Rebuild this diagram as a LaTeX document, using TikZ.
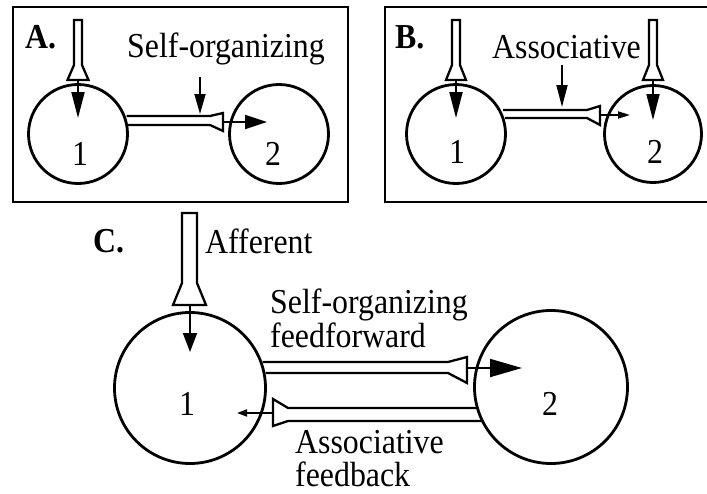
\documentclass[tikz,border=0pt]{standalone}
\usepackage{fontspec}
\setmainfont{Liberation Serif}[FakeStretch=0.91]
\usetikzlibrary{arrows.meta}
\begin{document}
\begin{tikzpicture}[x=1pt,y=-1pt,
  lbl/.style={inner sep=0pt, anchor=base west, font=\fontsize{35}{29}\selectfont},
  lbltwo/.style={inner sep=0pt, anchor=base west, align=left, font=\fontsize{35}{#1}\selectfont},
  ttl/.style={inner sep=0pt, anchor=base west, font=\fontsize{35}{35}\selectfont\bfseries},
  num/.style={inner sep=0pt, anchor=base, font=\fontsize{35}{35}\selectfont},
  cell/.style={circle, draw, line width=2.8pt, minimum size=#1, inner sep=0pt},
  tube/.style={draw, line width=2.3pt, line join=miter},
  sig/.style={line width=1.8pt},
  panel/.style={draw, line width=2.8pt}]
\useasboundingbox (0,0) rectangle (707,493);
% panels
\draw[panel] (13,7) rectangle (348,202);
\draw[panel] (385,7) rectangle (715,202);
% ---------- A ----------
\node[cell=99pt] (A1) at (78,134) {};
\node[cell=99pt] (A2) at (279,134) {};
\node[num] (A1n) at (80,165) {1};
\node[num] (A2n) at (273,165) {2};
\node[ttl] (Alab) at (25,48) {A.};
\node[lbl] (Aso) at (127,57) {Self-organizing};
\draw[tube] (74,20) -- (82,20) -- (82,65) -- (88.5,80) -- (67.5,80) -- (74,65) -- cycle;
\coordinate (Aa0) at (78,80); \coordinate (Aa1) at (78,118);
\draw[sig, -{Triangle[length=26pt,width=13pt]}] (Aa0) -- (Aa1);
\draw[tube] (126.5,116) -- (210,116) -- (223,113) -- (223,131) -- (210,125) -- (127.5,125);
\coordinate (Ah0) at (223,122); \coordinate (Ah1) at (267,122);
\draw[sig, -{Triangle[length=22pt,width=14pt]}] (Ah0) -- (Ah1);
\coordinate (Ad0) at (200,77); \coordinate (Ad1) at (200,114);
\draw[sig, -{Triangle[length=20pt,width=11pt]}] (Ad0) -- (Ad1);
% ---------- B ----------
\node[cell=99pt] (B1) at (456,134) {};
\node[cell=97pt] (B2) at (653,134) {};
\node[num] (B1n) at (457,163) {1};
\node[num] (B2n) at (655,163) {2};
\node[ttl] (Blab) at (395,48) {B.};
\node[lbl] (Bas) at (492,58) {Associative};
\draw[tube] (452,20) -- (460,20) -- (460,65) -- (466,80) -- (446,80) -- (452,65) -- cycle;
\draw[tube] (649,20) -- (657,20) -- (657,65) -- (663,80) -- (643,80) -- (649,65) -- cycle;
\coordinate (Ba0) at (456,80); \coordinate (Ba1) at (456,118);
\draw[sig, -{Triangle[length=26pt,width=13pt]}] (Ba0) -- (Ba1);
\coordinate (Bb0) at (653,80); \coordinate (Bb1) at (653,120);
\draw[sig, -{Triangle[length=26pt,width=13pt]}] (Bb0) -- (Bb1);
\draw[tube] (503,110) -- (587,110) -- (600,106) -- (600,125) -- (587,118) -- (505,118);
\coordinate (Bh0) at (600,115); \coordinate (Bh1) at (630,115);
\draw[sig, -{Triangle[length=12pt,width=7pt]}] (Bh0) -- (Bh1);
\coordinate (Bd0) at (562,65); \coordinate (Bd1) at (562,107);
\draw[sig, -{Triangle[length=22pt,width=11pt]}] (Bd0) -- (Bd1);
% ---------- C ----------
\node[cell=151pt] (C1) at (190,388) {};
\node[cell=153pt] (C2) at (551,387) {};
\node[num] (C1n) at (187,415) {1};
\node[num] (C2n) at (550,415) {2};
\node[ttl] (Clab) at (93,252) {C.};
\node[lbl] (Caf) at (205,253) {Afferent};
\node[lbltwo=29pt] (Cso) at (270,347) {Self-organizing\\feedforward};
\node[lbltwo=33pt] (Cas) at (295,486) {Associative\\feedback};
\draw[tube] (182,213) -- (197,213) -- (197,283) -- (206,305) -- (173,305) -- (182,283) -- cycle;
\coordinate (Ca0) at (190,305); \coordinate (Ca1) at (190,352);
\draw[sig, -{Triangle[length=19pt,width=14pt]}] (Ca0) -- (Ca1);
\draw[tube] (262.5,362) -- (448,362) -- (467,357) -- (467,383) -- (448,373) -- (265.5,373);
\coordinate (Cf0) at (467,368); \coordinate (Cf1) at (522,368);
\draw[sig, -{Triangle[length=32pt,width=18pt]}] (Cf0) -- (Cf1);
\draw[tube] (477,408) -- (288,408) -- (273,399) -- (273,426) -- (288,421) -- (482,421);
\coordinate (Cb0) at (273,413); \coordinate (Cb1) at (237,413);
\draw[sig, -{Triangle[length=10pt,width=7pt]}] (Cb0) -- (Cb1);
\end{tikzpicture}
\end{document}
